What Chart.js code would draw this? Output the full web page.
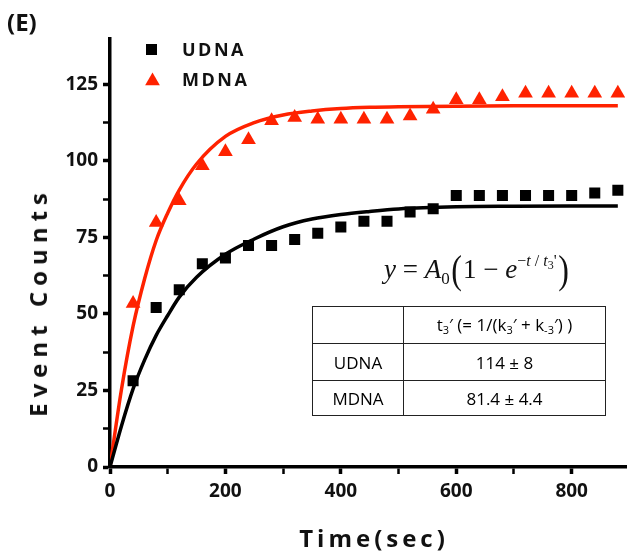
<!DOCTYPE html>
<html><head><meta charset="utf-8">
<script src="https://cdn.jsdelivr.net/npm/chart.js@4.4.0/dist/chart.umd.min.js"></script>
<style>
html,body{margin:0;padding:0;background:#fff;}
#wrap{position:relative;width:635px;height:555px;overflow:hidden;background:#fff;}
#c{position:absolute;left:0;top:0;}
.t{position:absolute;font-family:'Open Sans',sans-serif;font-weight:700;color:#111;white-space:nowrap;line-height:1;}
#eq{position:absolute;left:384px;top:250px;font-family:'Liberation Serif',serif;font-size:27px;color:#111;white-space:nowrap;line-height:1;}
#eq .par{font-size:40px;display:inline-block;transform:scaleX(0.8);vertical-align:-5px;}
#eq sub{font-size:17px;vertical-align:-6px;}
#eq sup{font-size:16px;vertical-align:12px;}
#eq sup sub{font-size:12px;vertical-align:-3px;}
#tbl{position:absolute;left:312px;top:306px;border-collapse:collapse;font-family:'Open Sans',sans-serif;font-size:17px;color:#000;}
#tbl td{border:1.5px solid #222;text-align:center;padding:0;}
#tbl sub{font-size:11px;vertical-align:-3px;}
</style></head>
<body>
<div id="wrap">
<canvas id="c" width="635" height="555"></canvas>
<div class="t" style="left:7px;top:10px;font-size:24px;">(E)</div>
<div class="t" style="left:182px;top:40px;font-size:18px;letter-spacing:2.5px;">UDNA</div>
<div class="t" style="left:182px;top:70px;font-size:18px;letter-spacing:2.5px;">MDNA</div>
<div class="t" style="left:374px;top:538px;font-size:24px;letter-spacing:4px;transform:translate(-50%,-50%);">Time(sec)</div>
<div class="t" style="left:38px;top:302px;font-size:24px;letter-spacing:6px;transform:translate(-50%,-50%) rotate(-90deg);">Event Counts</div>
<div id="eq"><i>y</i> = <i>A</i><sub>0</sub><span class="par">(</span>1 − <i>e</i><sup>−<i>t</i> / <i>t</i><sub>3</sub>'</sup><span class="par">)</span></div>
<table id="tbl">
<tr style="height:37px"><td style="width:90px"></td><td style="width:201px">t<sub>3</sub>′ (= 1/(k<sub>3</sub>′ + k<sub>-3</sub>′) )</td></tr>
<tr style="height:37px"><td>UDNA</td><td>114 ± 8</td></tr>
<tr style="height:35px"><td>MDNA</td><td>81.4 ± 4.4</td></tr>
</table>
</div>
<script>
// ---- data ----
const pointTimes = [40,80,120,160,200,240,280,320,360,400,440,480,520,560,600,640,680,720,760,800,840,880];
const udnaCounts = [28.2,52.1,57.9,66.4,68.3,72.4,72.4,74.3,76.4,78.4,80.3,80.3,83.3,84.4,88.7,88.7,88.7,88.7,88.7,88.7,89.5,90.4];
const mdnaCounts = [53.4,79.9,87.0,98.4,103.0,106.9,113.1,114.2,113.6,113.6,113.6,113.6,114.7,116.9,120.0,120.0,121.0,122.1,122.1,122.1,122.1,122.1];
const fitTimes = [0,20,40,60,80,100,120,150,200,250,300,350,400,450,500,600,700,800,880];
const udnaFit = [0,13.5,25.5,35,43,49.5,55.5,62,69.5,74.5,78.5,81,82.5,83.5,84.3,85,85.2,85.3,85.3];
const mdnaFit = [0,25.5,46,61.5,74,83,90.5,99,108,112.5,115,116.3,117.1,117.5,117.7,117.9,118,118,118];
const xTicks = [0,100,200,300,400,500,600,700,800];
const xLabels = [0,200,400,600,800];
const yTicks = [0,12.5,25,37.5,50,62.5,75,87.5,100,112.5,125];
const yLabels = [0,25,50,75,100,125];
const seriesNames = ['UDNA','MDNA'];
const RED = '#ff2200';

const pts = (xs, ys) => xs.map((x,i)=>({x:x, y:ys[i]}));

const legendMarkers = {
  id:'legendMarkers',
  afterDraw(chart){
    const ctx = chart.ctx;
    ctx.save();
    ctx.fillStyle = '#000';
    ctx.fillRect(146, 44, 11, 11);
    ctx.fillStyle = RED;
    const cx = 152.5, cy = 81, r = 8.5;
    ctx.beginPath();
    ctx.moveTo(cx, cy - r);
    ctx.lineTo(cx + r*Math.sin(2*Math.PI/3), cy - r*Math.cos(2*Math.PI/3));
    ctx.lineTo(cx + r*Math.sin(4*Math.PI/3), cy - r*Math.cos(4*Math.PI/3));
    ctx.closePath();
    ctx.fill();
    ctx.restore();
  }
};

const tickFont = {family:"'Open Sans', sans-serif", size:19, weight:'bold'};

new Chart(document.getElementById('c'), {
  type:'scatter',
  data:{
    datasets:[
      {label:seriesNames[0], data:pts(pointTimes, udnaCounts), pointStyle:'rect', pointRadius:7.8, pointBackgroundColor:'#000', pointBorderColor:'#000', pointBorderWidth:0, showLine:false, order:0},
      {label:seriesNames[1], data:pts(pointTimes, mdnaCounts), pointStyle:'triangle', pointRadius:8.5, pointBackgroundColor:RED, pointBorderColor:RED, pointBorderWidth:0, showLine:false, order:0},
      {label:seriesNames[0]+' fit', type:'line', data:pts(fitTimes, udnaFit), borderColor:'#000', borderWidth:3.5, pointRadius:0, cubicInterpolationMode:'monotone', fill:false, order:1},
      {label:seriesNames[1]+' fit', type:'line', data:pts(fitTimes, mdnaFit), borderColor:RED, borderWidth:3.5, pointRadius:0, cubicInterpolationMode:'monotone', fill:false, order:1}
    ]
  },
  options:{
    responsive:false,
    animation:false,
    devicePixelRatio:1,
    layout:{padding:{top:38.5,left:0,right:0,bottom:0}},
    plugins:{legend:{display:false}, tooltip:{enabled:false}},
    scales:{
      x:{
        type:'linear', min:0, max:895,
        afterFit:(s)=>{ s.height = 88; },
        afterBuildTicks:(s)=>{ s.ticks = xTicks.map(v=>({value:v})); },
        ticks:{autoSkip:false, maxRotation:0, font:tickFont, color:'#111', padding:6,
          callback:(v)=> xLabels.includes(v) ? String(v) : ''},
        grid:{drawOnChartArea:false, drawTicks:true, tickLength:7, tickColor:'#000',
          tickWidth:(c)=> (c.tick && xLabels.includes(c.tick.value)) ? 3.5 : 2.5},
        border:{display:true, color:'#000', width:3.5}
      },
      y:{
        type:'linear', min:0, max:140,
        afterFit:(s)=>{ s.width = 110; },
        afterBuildTicks:(s)=>{ s.ticks = yTicks.map(v=>({value:v})); },
        ticks:{autoSkip:false, font:tickFont, color:'#111', padding:5,
          callback:(v)=> yLabels.includes(v) ? String(v) : ''},
        grid:{drawOnChartArea:false, drawTicks:true, tickLength:7, tickColor:'#000',
          tickWidth:(c)=> (c.tick && yLabels.includes(c.tick.value)) ? 3.5 : 2.5},
        border:{display:true, color:'#000', width:3.5}
      }
    }
  },
  plugins:[legendMarkers]
});
</script>
</body></html>
